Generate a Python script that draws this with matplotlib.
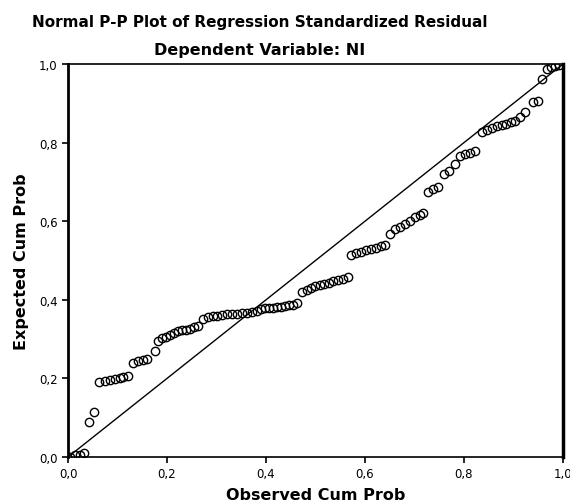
import matplotlib
matplotlib.use("Agg")
import matplotlib.pyplot as plt
from matplotlib.ticker import FuncFormatter

plt.rcParams['font.family'] = ['DejaVu Sans']

# observed vs expected cumulative probabilities
observed = [0.005, 0.015, 0.025, 0.032, 0.042, 0.053,
            0.063, 0.075, 0.085, 0.095, 0.105, 0.112, 0.121,
            0.131, 0.141, 0.152, 0.160, 0.176,
            0.182, 0.190, 0.198, 0.206, 0.214, 0.222, 0.230, 0.238, 0.246, 0.254, 0.262,
            0.272, 0.282, 0.292, 0.302, 0.312, 0.322, 0.332, 0.342, 0.352, 0.362, 0.372, 0.382,
            0.390, 0.398, 0.406, 0.414, 0.422, 0.430, 0.438, 0.446, 0.454, 0.463,
            0.473, 0.482, 0.491, 0.500, 0.509, 0.518, 0.527, 0.536, 0.545, 0.556, 0.566,
            0.572, 0.582, 0.592, 0.602, 0.612, 0.622, 0.632, 0.640,
            0.650, 0.660, 0.671, 0.681, 0.691, 0.701, 0.711, 0.717,
            0.727, 0.737, 0.748, 0.760, 0.770, 0.782,
            0.792, 0.802, 0.812, 0.822,
            0.836, 0.846, 0.856, 0.866, 0.876, 0.884, 0.894, 0.904, 0.914, 0.924,
            0.939, 0.949, 0.958, 0.968, 0.976, 0.984, 0.992]
expected = [0.000, 0.004, 0.006, 0.010, 0.089, 0.115,
            0.191, 0.193, 0.196, 0.198, 0.201, 0.203, 0.206,
            0.239, 0.244, 0.247, 0.249, 0.270,
            0.296, 0.302, 0.306, 0.310, 0.315, 0.320, 0.323, 0.324, 0.327, 0.330, 0.334,
            0.352, 0.356, 0.358, 0.360, 0.361, 0.363, 0.364, 0.365, 0.366, 0.367, 0.369, 0.372,
            0.377, 0.378, 0.379, 0.380, 0.381, 0.382, 0.384, 0.386, 0.388, 0.392,
            0.420, 0.425, 0.430, 0.434, 0.437, 0.440, 0.443, 0.447, 0.450, 0.454, 0.458,
            0.514, 0.518, 0.522, 0.526, 0.529, 0.532, 0.536, 0.540,
            0.567, 0.580, 0.585, 0.593, 0.600, 0.611, 0.616, 0.621,
            0.674, 0.682, 0.687, 0.720, 0.728, 0.746,
            0.766, 0.771, 0.774, 0.778,
            0.828, 0.831, 0.836, 0.842, 0.845, 0.848, 0.852, 0.856, 0.865, 0.878,
            0.903, 0.906, 0.962, 0.987, 0.992, 0.995, 0.998]

fig = plt.figure(figsize=(5.7, 5.02), dpi=100)
ax = fig.add_axes([0.1193, 0.0876, 0.8684, 0.7829])

ax.plot([0, 1], [0, 1], color='black', linewidth=1.0)
ax.plot(observed, expected, linestyle='none', marker='o', markersize=6,
        markerfacecolor='none', markeredgecolor='black', markeredgewidth=1.0)

ax.set_xlim(0, 1)
ax.set_ylim(0, 1)
ticks = [0, 0.2, 0.4, 0.6, 0.8, 1.0]
ax.set_xticks(ticks)
ax.set_yticks(ticks)
fmt = FuncFormatter(lambda v, p: ('%.1f' % v).replace('.', ','))
ax.xaxis.set_major_formatter(fmt)
ax.yaxis.set_major_formatter(fmt)
ax.tick_params(direction='out', length=4, width=1.2, labelsize=8.5, color='black')

ax.spines['left'].set_linewidth(2.0)
ax.spines['right'].set_linewidth(2.5)
for side in ['top', 'bottom']:
    ax.spines[side].set_linewidth(1.2)

ax.set_xlabel('Observed Cum Prob', fontsize=11.5, fontweight='bold', labelpad=5)
ax.set_ylabel('Expected Cum Prob', fontsize=11.5, fontweight='bold', labelpad=7)

fig.text(0.455, 0.955, 'Normal P-P Plot of Regression Standardized Residual',
         ha='center', va='center', fontsize=11, fontweight='bold')
fig.text(0.455, 0.90, 'Dependent Variable: NI',
         ha='center', va='center', fontsize=11.5, fontweight='bold')

fig.savefig('out.png', dpi=100)
